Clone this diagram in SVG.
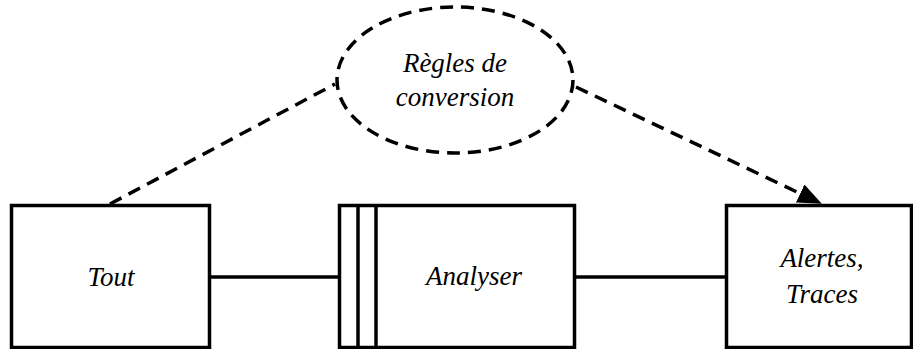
<svg xmlns="http://www.w3.org/2000/svg" width="913" height="349" viewBox="0 0 913 349">
  <defs>
    <marker id="arrow" markerWidth="24" markerHeight="20" refX="22" refY="10" orient="auto" markerUnits="userSpaceOnUse" viewBox="0 0 24 20">
      <path d="M0,0 L24,10 L0,20 Z" fill="#000"/>
    </marker>
  </defs>

  <!-- shared stroke look for every shape; text looks shared through inheritance -->
  <g stroke="#000" stroke-width="3.5" font-family="Liberation Serif, Times New Roman, serif" font-style="italic" font-size="27px" text-anchor="middle">
    <g id="connectors" fill="none">
      <line x1="210" y1="277" x2="339" y2="277"/>
      <line x1="575" y1="277" x2="726" y2="277"/>
      <line x1="110" y1="204" x2="335" y2="84" stroke-dasharray="13 8"/>
      <line x1="576" y1="87" x2="820" y2="203" stroke-dasharray="13 8" marker-end="url(#arrow)"/>
    </g>

    <g id="tout">
      <rect x="11.5" y="205.5" width="198" height="142" fill="#fff"/>
      <text x="111" y="286" stroke="none" fill="#000">Tout</text>
    </g>

    <g id="analyser">
      <rect x="339.5" y="205.5" width="235" height="142" fill="#fff"/>
      <line x1="358" y1="205" x2="358" y2="348"/>
      <line x1="376" y1="205" x2="376" y2="348"/>
      <text x="474" y="285" stroke="none" fill="#000">Analyser</text>
    </g>

    <g id="alertes">
      <rect x="726.5" y="205.5" width="185" height="142" fill="#fff"/>
      <text x="822" y="267" stroke="none" fill="#000">Alertes,</text>
      <text x="822" y="303" stroke="none" fill="#000">Traces</text>
    </g>

    <g id="regles">
      <ellipse cx="455" cy="80" rx="118" ry="73" fill="none" stroke-dasharray="13 8"/>
      <text x="455" y="72" stroke="none" fill="#000">Règles de</text>
      <text x="455" y="106" stroke="none" fill="#000">conversion</text>
    </g>
  </g>
</svg>
